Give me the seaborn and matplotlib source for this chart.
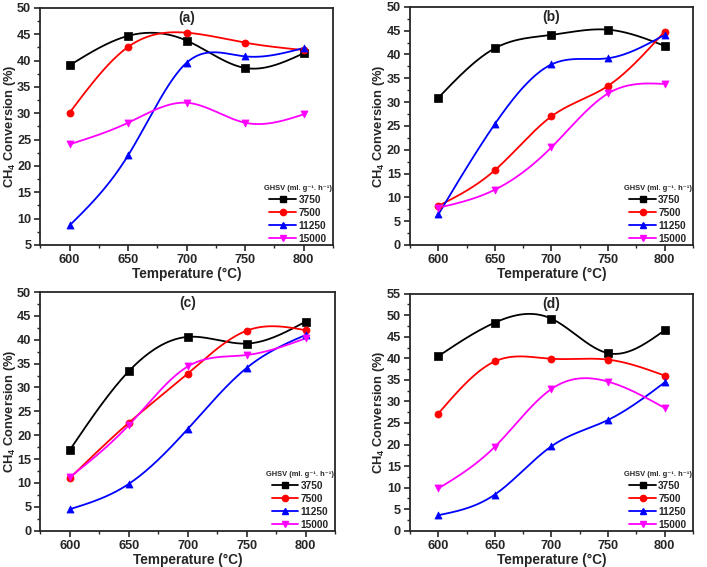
import numpy as np
import pandas as pd
import seaborn as sns
import matplotlib.pyplot as plt
from matplotlib.lines import Line2D
from matplotlib.ticker import MultipleLocator

# data
temps = [600, 650, 700, 750, 800]
ghsv = ['3750', '7500', '11250', '15000']

panel_a = {'3750': [39.1, 44.7, 43.8, 38.6, 41.4],
           '7500': [30.1, 42.6, 45.3, 43.4, 42.0],
           '11250': [8.7, 22.0, 39.6, 40.8, 42.4],
           '15000': [24.1, 28.2, 32.0, 28.2, 29.8]}
panel_b = {'3750': [30.9, 41.3, 44.1, 45.2, 41.8],
           '7500': [8.2, 15.7, 27.0, 33.4, 44.8],
           '11250': [6.4, 25.4, 37.9, 39.2, 44.1],
           '15000': [7.8, 11.6, 20.5, 31.8, 33.8]}
panel_c = {'3750': [16.9, 33.4, 40.6, 39.2, 43.8],
           '7500': [11.0, 22.6, 32.9, 41.9, 42.0],
           '11250': [4.5, 9.8, 21.3, 34.1, 41.0],
           '15000': [11.2, 22.1, 34.4, 36.8, 40.3]}
panel_d = {'3750': [40.5, 48.3, 49.2, 41.2, 46.5],
           '7500': [27.2, 39.3, 39.9, 39.7, 36.0],
           '11250': [3.6, 8.4, 19.6, 25.7, 34.4],
           '15000': [9.8, 19.5, 32.9, 34.6, 28.5]}

panels = [('(a)', panel_a, (5, 50)), ('(b)', panel_b, (0, 50)),
          ('(c)', panel_c, (0, 50)), ('(d)', panel_d, (0, 55))]

colors = {'3750': '#000000', '7500': '#ff0000', '11250': '#0000ff', '15000': '#ff00ff'}
markers = {'3750': 's', '7500': 'o', '11250': '^', '15000': 'v'}


def spline(x, y, n=200):
    # natural cubic spline, like Origin's "spline" connect
    x = np.asarray(x, float)
    y = np.asarray(y, float)
    k = len(x)
    h = np.diff(x)
    A = np.zeros((k, k))
    r = np.zeros(k)
    A[0, 0] = A[-1, -1] = 1
    for i in range(1, k - 1):
        A[i, i - 1] = h[i - 1]
        A[i, i] = 2 * (h[i - 1] + h[i])
        A[i, i + 1] = h[i]
        r[i] = 6 * ((y[i + 1] - y[i]) / h[i] - (y[i] - y[i - 1]) / h[i - 1])
    m = np.linalg.solve(A, r)
    xs = np.linspace(x[0], x[-1], n)
    idx = np.clip(np.searchsorted(x, xs) - 1, 0, k - 2)
    x0, x1 = x[idx], x[idx + 1]
    hh = x1 - x0
    a = (x1 - xs) / hh
    b = (xs - x0) / hh
    ys = a * y[idx] + b * y[idx + 1] + ((a**3 - a) * m[idx] + (b**3 - b) * m[idx + 1]) * hh**2 / 6
    return xs, ys


sns.set_style('ticks')
plt.rcParams['font.family'] = ['Liberation Sans', 'DejaVu Sans']
plt.rcParams['font.weight'] = 'bold'
plt.rcParams['mathtext.fontset'] = 'custom'
plt.rcParams['mathtext.rm'] = 'Liberation Sans:bold'
plt.rcParams['mathtext.bf'] = 'Liberation Sans:bold'
plt.rcParams['mathtext.it'] = 'Liberation Sans:bold'

fig = plt.figure(figsize=(7.07, 5.67), dpi=100)
boxes = [[0.057, 0.568, 0.414, 0.418], [0.580, 0.568, 0.400, 0.420],
         [0.057, 0.064, 0.417, 0.421], [0.580, 0.064, 0.400, 0.418]]
label_x = [-0.076, -0.082, -0.076, -0.082]

for (label, data, ylim), box, lx in zip(panels, boxes, label_x):
    ax = fig.add_axes(box)
    for g in ghsv:
        xs, ys = spline(temps, data[g])
        smooth = pd.DataFrame({'T': xs, 'conv': ys})
        sns.lineplot(data=smooth, x='T', y='conv', ax=ax, color=colors[g], lw=1.3,
                     sort=False, estimator=None)
        pts = pd.DataFrame({'T': temps, 'conv': data[g]})
        sns.scatterplot(data=pts, x='T', y='conv', ax=ax, color=colors[g], marker=markers[g],
                        s=26, edgecolor=colors[g], linewidth=0.5, zorder=3)
    ax.set_xlim(575, 825)
    ax.set_ylim(*ylim)
    ax.set_xticks(temps)
    ax.xaxis.set_minor_locator(MultipleLocator(25))
    ax.yaxis.set_major_locator(MultipleLocator(5))
    ax.yaxis.set_minor_locator(MultipleLocator(2.5))
    ax.tick_params(which='major', direction='out', length=4, width=1.2, labelsize=9.2, pad=2.5)
    ax.tick_params(which='minor', direction='out', length=2.5, width=1.0)
    for lab in ax.get_xticklabels() + ax.get_yticklabels():
        lab.set_fontweight('bold')
    for sp in ax.spines.values():
        sp.set_linewidth(1.3)
    ax.set_xlabel('Temperature (°C)', fontsize=9.8, fontweight='bold', labelpad=1)
    ax.set_ylabel(r'CH$_4$ Conversion (%)', fontsize=9.3, fontweight='bold')
    ax.yaxis.set_label_coords(lx, 0.5)
    ax.text(0.5, 0.985, label, transform=ax.transAxes, ha='center', va='top',
            fontsize=10, fontweight='bold')
    handles = [Line2D([], [], color=colors[g], marker=markers[g], markersize=4.5, lw=1.3)
               for g in ghsv]
    leg = ax.legend(handles, ghsv, loc='lower right', frameon=False, fontsize=7.3,
                    title='GHSV (ml. g⁻¹. h⁻¹)', title_fontsize=5.4,
                    handlelength=2.6, handletextpad=0.25, labelspacing=0.3,
                    borderaxespad=0.0, borderpad=0.1)
    for t in leg.get_texts():
        t.set_fontweight('bold')
    leg.get_title().set_fontweight('bold')

fig.savefig('out.png', dpi=100)
